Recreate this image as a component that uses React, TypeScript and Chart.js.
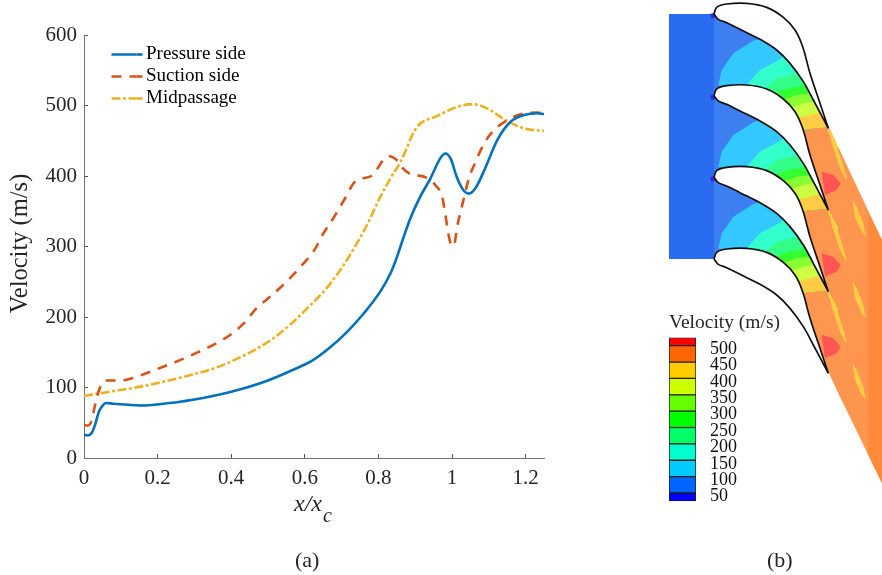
import React, { useEffect, useRef } from "react";
import { Chart, registerables } from "chart.js";

Chart.register(...registerables);

const SERIF = "'Liberation Serif', 'Times New Roman', serif";
const INK = "#262626";

// ---------- (a) velocity distributions ----------
const pressureX = [0, 0.01, 0.02, 0.03, 0.04, 0.05, 0.06, 0.08, 0.12, 0.16, 0.2, 0.3, 0.4, 0.5, 0.57, 0.62, 0.669, 0.715, 0.76, 0.805, 0.833, 0.851, 0.869, 0.887, 0.914, 0.941, 0.968, 0.982, 0.996, 1.014, 1.032, 1.046, 1.064, 1.086, 1.123, 1.159, 1.196, 1.232, 1.25];
const pressureV = [33, 32, 35, 47, 65, 74, 78, 77, 75.5, 74.5, 76, 83, 94, 110, 125.5, 138, 157, 179, 205, 236, 262, 286, 314, 340, 371, 396, 425, 432, 425, 397, 379, 375, 383, 406, 451, 477, 486.5, 489, 488];
const suctionX = [0, 0.01, 0.02, 0.03, 0.04, 0.05, 0.06, 0.08, 0.1, 0.13, 0.193, 0.293, 0.397, 0.434, 0.47, 0.511, 0.552, 0.588, 0.626, 0.651, 0.681, 0.708, 0.733, 0.746, 0.783, 0.814, 0.828, 0.855, 0.866, 0.896, 0.909, 0.937, 0.955, 0.973, 0.982, 0.991, 0.998, 1.005, 1.014, 1.028, 1.046, 1.064, 1.087, 1.114, 1.15, 1.186, 1.227, 1.25];
const suctionV = [47, 46, 52, 75, 95, 107, 110, 110, 110, 113, 125, 146, 174.5, 191, 213, 231, 251, 271, 295, 319, 343, 367, 390, 395, 401, 423, 428, 420, 411, 401, 400.5, 396, 387, 371, 345, 316, 302, 301, 328, 359, 397, 420, 446, 465, 479, 487.5, 490, 489];
const midX = [0, 0.053, 0.161, 0.27, 0.361, 0.425, 0.47, 0.515, 0.56, 0.606, 0.651, 0.697, 0.733, 0.769, 0.801, 0.833, 0.86, 0.875, 0.892, 0.909, 0.959, 1.014, 1.054, 1.095, 1.15, 1.2, 1.25];
const midV = [88, 92.6, 102, 115, 128.6, 143, 155, 170, 189, 212, 236, 267, 297, 330.5, 366, 397, 420, 437, 458, 472, 485, 498, 502, 496, 478, 467, 464];
const xTicks = [0, 0.2, 0.4, 0.6, 0.8, 1, 1.2];
const yTicks = [0, 100, 200, 300, 400, 500, 600];

const pairs = (xs: number[], ys: number[]) => xs.map((x, i) => ({ x, y: ys[i] }));

// ---------- (b) cascade contour field, in drawing units ----------
const pitch = 245;
const bladeUpper = [[162, 42], [170, 22], [200, 12], [260, 10], [320, 22], [370, 52], [405, 90], [428, 140], [450, 220], [480, 310], [505, 385]];
const bladeLower = [[162, 42], [175, 58], [200, 68], [240, 88], [300, 118], [350, 150], [390, 190], [430, 245], [460, 300], [505, 385]];
const inletLeft = 27;
const contourLines: [string, number[][]][] = [
  ["#33c8ff", [[175, 255], [185, 210], [220, 160], [280, 122], [300, 116]]],
  ["#33ffcc", [[262, 252], [300, 210], [360, 178], [372, 166]]],
  ["#33ff88", [[315, 265], [350, 235], [415, 220]]],
  ["#33ff33", [[340, 282], [385, 265], [440, 255]]],
  ["#88ff33", [[375, 297], [410, 285], [455, 280]]],
  ["#ccff44", [[397, 322], [430, 310], [465, 303]]],
  ["#ffcc44", [[418, 352], [450, 345], [485, 335]]],
];
const outletOutline = [[420, 385], [470, 380], [505, 378], [666, 720], [666, 1450], [535, 1180], [505, 1115], [440, 980], [420, 900]];
const outletDark = [[625, 640], [666, 720], [666, 1450], [625, 1365]];
const wakeStreak = [[505, 385], [525, 420], [560, 530], [558, 540], [540, 505], [515, 430]];
const wakeEdge = [[505, 385], [535, 440], [530, 445], [505, 395]];
const outletEllipse = [[577, 598], [590, 620], [610, 670], [617, 708], [605, 695], [585, 650]];
const lossBlob = [[485, 515], [520, 525], [542, 550], [530, 570], [495, 585], [490, 550]];
const stagnation = [[150, 42], [163, 38], [170, 50], [155, 56]];

// ---------- (b) colour bar ----------
const barEdges = [25, 50, 100, 150, 200, 250, 300, 350, 400, 450, 500, 525];
const barColors = ["#0000ff", "#0066ff", "#00ccff", "#00ffcc", "#00ff66", "#00ff00", "#66ff00", "#ccff00", "#ffcc00", "#ff6600", "#ff0000"];
const barTicks = [50, 100, 150, 200, 250, 300, 350, 400, 450, 500];

const shift = (pts: number[][], dy: number) => pts.map(([x, y]) => ({ x, y: y + dy }));

function fieldDatasets() {
  const polys: any[] = [];
  const add = (pts: { x: number; y: number }[], color: string, extra: any = {}) =>
    polys.push({
      data: pts,
      showLine: true,
      fill: "shape",
      backgroundColor: color,
      borderColor: color,
      borderWidth: 0,
      pointRadius: 0,
      tension: 0,
      ...extra,
    });

  add(
    [{ x: inletLeft, y: 42 }, { x: 165, y: 42 }, { x: 165, y: 42 + 3 * pitch }, { x: inletLeft, y: 42 + 3 * pitch }],
    "#2a6cf0"
  );
  for (let k = 0; k < 3; k++) {
    const off = k * pitch;
    const up2 = shift(bladeUpper, off + pitch);
    const low1 = shift(bladeLower, off);
    add([...low1, ...up2.slice().reverse()], "#3d7ff0");
  }
  add(shift(outletOutline, 0), "#ff9650");
  add(shift(outletDark, 0), "#ff8a3a");
  for (let k = 0; k < 3; k++) {
    const off = k * pitch;
    contourLines.forEach(([color, line]) => {
      const start = line[0];
      const end = line[line.length - 1];
      const restLower = bladeLower.filter((p) => p[0] > end[0]);
      const restUpper = bladeUpper.filter((p) => p[0] > start[0] - 5 && p[0] < 440).reverse();
      add(
        [...shift(line, off), ...shift(restLower, off), { x: 505, y: 380 + off }, { x: 438, y: 386 + off }, ...shift(restUpper, off + pitch).map((p) => ({ x: p.x, y: p.y + 6 }))],
        color
      );
    });
  }
  for (let k = 0; k < 3; k++) {
    const off = k * pitch;
    add(shift(wakeEdge, off), "#ccff44");
    add(shift(wakeStreak, off), "#ffcc44");
    add(shift(outletEllipse, off), "#ffcc44");
    add(shift(lossBlob, off), "#ff5555");
    add(shift(stagnation, off), "#2a2ae0");
  }
  for (let k = 0; k < 4; k++) {
    const off = k * pitch;
    add([...shift(bladeUpper, off), ...shift(bladeLower, off).reverse()], "#ffffff", {
      borderColor: "#111111",
      borderWidth: 1.7,
      tension: 0.35,
    });
  }
  // the first entry is painted first
  return polys.map((d, i) => ({ ...d, order: polys.length - i }));
}

const legendPlacer = {
  id: "legendPlacer",
  afterLayout(chart: any) {
    const l = chart.legend;
    if (!l) return;
    const dx = 108.5 - l.left;
    const dy = 42 - l.top;
    l.left += dx;
    l.right += dx;
    l.top += dy;
    l.bottom += dy;
  },
  afterDraw(chart: any) {
    const { ctx, legend, scales } = chart;
    // completes each legend key and writes the subscript of the x-axis title
    const pad = legend.options.labels.padding;
    legend.legendItems.forEach((item: any, i: number) => {
      const x0 = legend.left + pad;
      const y = legend.top + pad + i * (19 + pad) + 9.5;
      ctx.save();
      ctx.strokeStyle = item.strokeStyle;
      ctx.lineWidth = item.lineWidth;
      ctx.beginPath();
      ctx.moveTo(x0 + 25, y);
      ctx.lineTo(x0 + 31, y);
      ctx.stroke();
      ctx.restore();
    });
    const s = scales.x;
    ctx.save();
    ctx.font = `italic 20px ${SERIF}`;
    ctx.fillStyle = INK;
    ctx.textBaseline = "alphabetic";
    ctx.fillText("c", s.left + s.width / 2 + 9, 522);
    ctx.restore();
  },
};

export default function App() {
  const leftRef = useRef<HTMLCanvasElement>(null);
  const fieldRef = useRef<HTMLCanvasElement>(null);
  const barRef = useRef<HTMLCanvasElement>(null);

  useEffect(() => {
    const line = new Chart(leftRef.current!, {
      type: "scatter",
      plugins: [legendPlacer],
      data: {
        datasets: [
          { label: "Pressure side", data: pairs(pressureX, pressureV), borderColor: "#0072BD", backgroundColor: "#0072BD", borderWidth: 2.6 },
          { label: "Suction side", data: pairs(suctionX, suctionV), borderColor: "#D95319", backgroundColor: "#D95319", borderWidth: 2.6, borderDash: [10, 8] },
          { label: "Midpassage", data: pairs(midX, midV), borderColor: "#EDB120", backgroundColor: "#EDB120", borderWidth: 2.6, borderDash: [9, 2.5, 3, 2.5] },
        ].map((d) => ({ ...d, showLine: true, pointRadius: 0, cubicInterpolationMode: "monotone" })) as any,
      },
      options: {
        animation: false,
        responsive: false,
        layout: { padding: { top: 35, right: 56, left: 0, bottom: 56 } },
        plugins: {
          tooltip: { enabled: false },
          legend: {
            position: "chartArea" as any,
            align: "start",
            labels: {
              usePointStyle: true,
              pointStyle: "line",
              pointStyleWidth: 25,
              padding: 3,
              color: INK,
              font: { family: SERIF, size: 19, lineHeight: 1 },
              generateLabels: (chart: any) =>
                chart.data.datasets.map((d: any, i: number) => ({
                  text: d.label,
                  strokeStyle: d.borderColor,
                  fillStyle: d.borderColor,
                  lineWidth: d.borderWidth,
                  lineDash: d.borderDash || [],
                  pointStyle: "line",
                  datasetIndex: i,
                  hidden: false,
                })),
            },
          },
        },
        scales: {
          x: {
            type: "linear",
            min: 0,
            max: 1.25,
            afterBuildTicks: (s: any) => { s.ticks = xTicks.map((value) => ({ value })); },
            afterFit: (s: any) => { s.height = 61; },
            grid: { drawOnChartArea: false, tickLength: -4, color: "#555555" },
            border: { color: "#707070", width: 1 },
            ticks: { padding: 12, color: INK, maxRotation: 0, font: { family: SERIF, size: 21 }, callback: (v: any) => String(v) },
            title: { display: true, text: "x/x\u00a0\u00a0", color: INK, padding: { top: 1, bottom: 0 }, font: { family: SERIF, size: 24, style: "italic" } },
          },
          y: {
            min: 0,
            max: 600,
            afterBuildTicks: (s: any) => { s.ticks = yTicks.map((value) => ({ value })); },
            afterFit: (s: any) => { s.width = 84; },
            grid: { drawOnChartArea: false, tickLength: -4, color: "#555555" },
            border: { color: "#707070", width: 1 },
            ticks: { padding: 11, color: INK, font: { family: SERIF, size: 21 } },
            title: { display: true, text: "\u00a0Velocity (m/s)", color: INK, padding: { top: 6, bottom: 0 }, font: { family: SERIF, size: 24.5 } },
          },
        },
      },
    } as any);

    const field = new Chart(fieldRef.current!, {
      type: "scatter",
      data: { datasets: fieldDatasets() },
      options: {
        animation: false,
        responsive: false,
        plugins: { legend: { display: false }, tooltip: { enabled: false } },
        scales: {
          x: { type: "linear", min: 0, max: 666, display: false },
          y: { type: "linear", min: 0, max: 1725, reverse: true, display: false },
        },
      },
    } as any);

    const bar = new Chart(barRef.current!, {
      type: "bar",
      data: {
        labels: ["Velocity"],
        datasets: barColors.map((c, i) => ({
          label: String(barEdges[i]),
          data: [[barEdges[i], barEdges[i + 1]]],
          backgroundColor: c,
          borderColor: "#1a1a1a",
          borderWidth: 1,
          borderSkipped: false,
          grouped: false,
          barPercentage: 1,
          categoryPercentage: 1,
          yAxisID: "y",
        })),
      },
      options: {
        animation: false,
        responsive: false,
        layout: { autoPadding: false, padding: { left: 9, top: 0, bottom: 1, right: 0 } },
        plugins: {
          legend: { display: false },
          tooltip: { enabled: false },
          title: {
            display: true,
            text: "Velocity (m/s)",
            align: "start",
            color: INK,
            padding: { top: 3, bottom: 5 },
            font: { family: SERIF, size: 19.5, weight: "normal", lineHeight: 1 },
          },
        },
        scales: {
          x: { display: false },
          y: {
            position: "right",
            min: 25,
            max: 525,
            afterBuildTicks: (s: any) => { s.ticks = barTicks.map((value) => ({ value })); },
            afterFit: (s: any) => { s.width = 186; },
            grid: { display: false },
            border: { display: false },
            ticks: { padding: 6, labelOffset: 3.5, autoSkip: false, color: "#111111", font: { family: SERIF, size: 18 }, crossAlign: "near" },
          },
        },
      },
    } as any);

    return () => {
      line.destroy();
      field.destroy();
      bar.destroy();
    };
  }, []);

  const abs = (left: number, top: number): React.CSSProperties => ({ position: "absolute", left, top });
  const caption: React.CSSProperties = { fontFamily: SERIF, fontSize: 22, color: INK, lineHeight: "24px" };
  return (
    <div style={{ position: "absolute", left: 0, top: 0, width: 882, height: 575, background: "#fff", overflow: "hidden" }}>
      <canvas ref={leftRef} width={600} height={575} style={abs(0, 0)} />
      <canvas ref={fieldRef} width={222} height={575} style={abs(660, 0)} />
      <canvas ref={barRef} width={222} height={208} style={abs(660, 310)} />
      <span style={{ ...abs(295, 548), ...caption }}>(a)</span>
      <span style={{ ...abs(767, 548), ...caption }}>(b)</span>
    </div>
  );
}
